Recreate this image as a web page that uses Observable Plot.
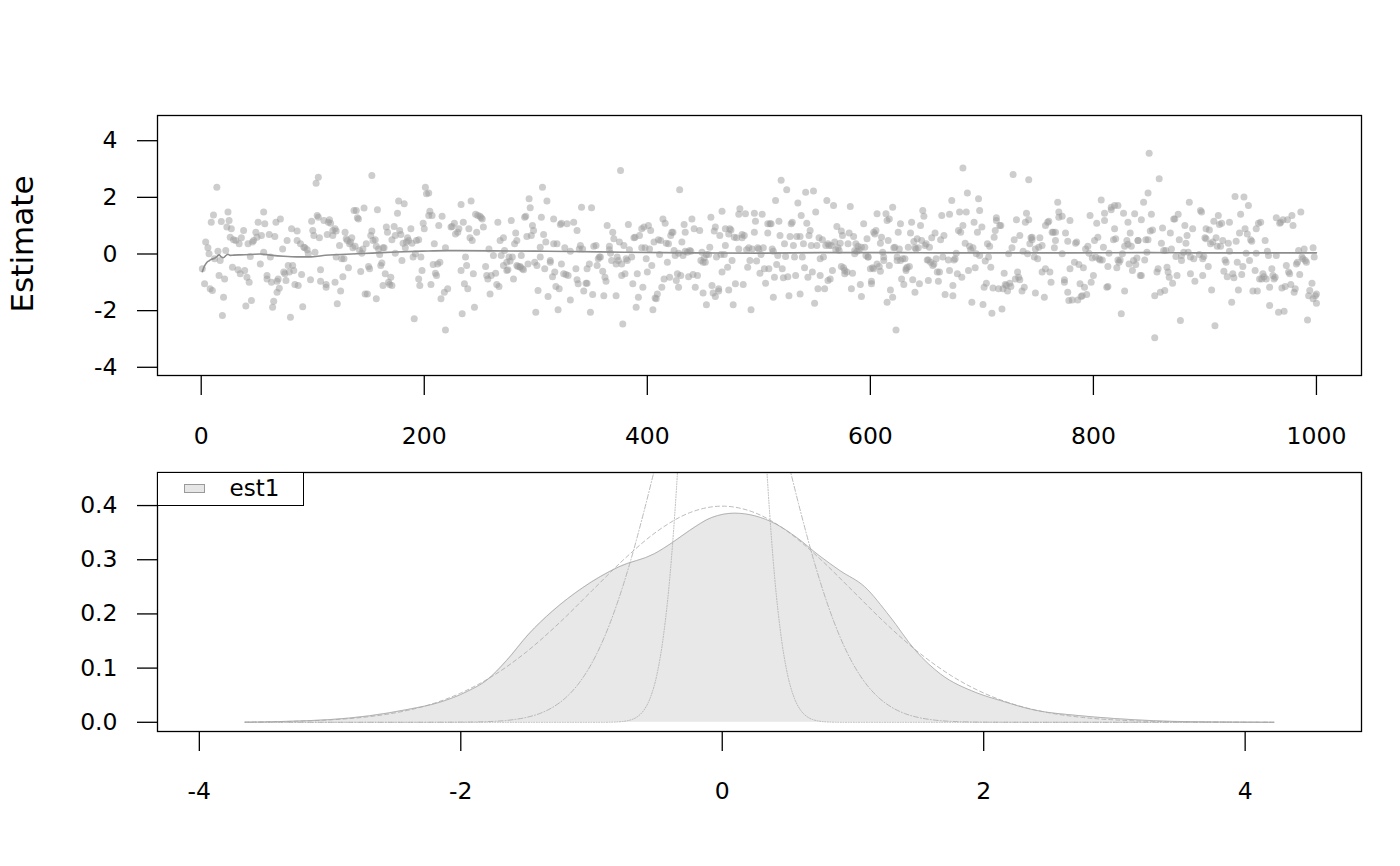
<!DOCTYPE html>
<html><head><meta charset="utf-8">
<script src="https://cdn.jsdelivr.net/npm/d3@7"></script>
<script src="https://cdn.jsdelivr.net/npm/@observablehq/plot@0.6"></script>
<style>
html,body{margin:0;padding:0;background:#fff;}
#wrap{position:relative;width:1400px;height:866px;font-family:"DejaVu Sans",sans-serif;color:#000;overflow:hidden;}
.panel{position:absolute;left:0;}
#ylab{position:absolute;left:22px;top:244px;transform:translate(-50%,-50%) rotate(-90deg);font-size:31px;white-space:nowrap;line-height:1;}
#legend{position:absolute;left:156.5px;top:471.5px;width:147px;height:34px;box-sizing:border-box;border:1.3px solid #000;background:#fff;}
#legend .sw{position:absolute;left:26px;top:11px;width:21px;height:9px;box-sizing:border-box;background:#e6e6e6;border:1px solid #9a9a9a;}
#legend .lb{position:absolute;left:72px;top:3px;font-size:23px;line-height:25px;}
</style>
</head><body>
<div id="wrap"><div id="ylab">Estimate</div></div>
<script>
// ---------- top panel: draws per iteration ----------
const iter = [
1,3,4,6,7,8,10,9,11,12,
14,15,16,17,19,20,21,22,18,24,
25,23,27,26,28,29,31,33,34,35,
36,38,39,40,41,43,42,45,44,46,
47,49,51,50,53,54,56,56,57,59,
59,61,62,63,64,65,66,67,68,68,
70,71,69,73,74,75,76,77,78,79,
80,81,82,83,84,86,86,87,89,90,
91,92,93,95,96,98,99,100,101,102,
103,104,105,105,106,107,107,
110,112,112,113,114,115,116,118,118,120,
121,120,121,122,124,125,126,127,128,129,
130,131,132,133,134,135,136,137,138,139,
140,141,142,143,144,145,146,147,148,149,
150,151,152,153,153,154,156,157,157,158,
159,160,161,162,163,163,164,165,166,167,
168,169,170,171,171,173,174,174,176,177,
178,179,180,181,182,183,184,185,186,188,
189,190,191,192,193,195,195,196,197,198,
199,200,201,202,204,204,205,206,207,208,
209,210,211,212,213,214,215,216,218,219,
219,
221,224,225,227,228,230,231,233,233,234,
235,236,237,238,239,240,241,242,243,244,
245,247,246,248,250,251,252,253,255,256,
257,258,259,260,262,264,265,266,267,268,
269,271,271,272,274,274,275,276,277,278,
279,280,281,282,283,283,284,286,286,287,
288,289,290,291,292,293,294,295,296,297,
298,299,300,301,302,304,304,305,306,307,
308,309,310,311,313,313,315,316,316,317,
318,319,320,321,322,323,323,325,326,327,
328,329,331,331,
334,336,337,337,338,339,340,342,341,343,
345,346,346,348,349,350,351,352,354,355,
356,357,358,360,361,362,363,364,366,366,
367,368,369,370,372,372,373,374,375,376,
377,377,378,379,380,381,382,383,384,386,
387,388,389,390,391,392,393,395,395,396,
397,398,399,400,401,402,403,404,405,406,
407,408,409,410,411,412,413,414,415,416,
417,418,419,420,421,422,423,424,425,426,
427,428,428,429,430,431,432,433,434,434,
436,437,438,439,440,441,442,443,
445,447,448,449,450,450,451,452,453,453,
455,456,457,458,459,460,461,461,462,464,
464,465,466,467,467,469,470,470,472,473,
473,474,475,476,477,478,479,480,482,482,
483,485,485,486,487,488,489,490,491,492,
493,494,496,496,497,498,499,500,501,502,
503,504,505,506,508,508,509,510,511,512,
513,513,514,515,516,517,518,519,520,521,
522,523,524,525,526,527,528,529,530,531,
532,533,534,535,537,537,538,539,540,541,
542,543,544,545,546,547,548,549,550,551,
552,553,554,555,555,
557,558,559,560,561,562,562,563,564,565,
566,567,568,569,570,571,572,573,574,574,
575,576,577,577,579,580,581,582,583,584,
585,586,586,587,588,589,590,591,592,592,
594,595,596,597,598,598,600,601,601,602,
603,603,604,605,606,606,608,609,609,610,
611,612,612,614,615,615,616,617,617,618,
620,620,621,622,623,624,624,625,626,627,
627,628,629,630,631,632,632,633,634,635,
636,637,638,639,640,640,641,642,643,644,
645,646,647,648,649,650,651,652,652,653,
654,655,656,657,658,659,660,661,662,663,
664,665,666,667,
670,671,671,673,674,674,675,676,677,678,
679,680,681,682,683,683,685,686,687,688,
689,690,691,692,693,694,695,696,697,698,
698,700,701,702,703,704,705,706,707,708,
709,710,711,712,713,713,715,716,717,718,
719,720,721,722,723,724,725,726,727,728,
729,730,731,732,733,734,734,736,737,738,
739,740,741,742,742,743,744,745,745,747,
748,748,750,751,752,754,754,756,757,757,
759,760,761,762,763,764,765,766,766,768,
769,769,772,772,774,774,775,777,777,778,
779,779,
781,783,784,785,786,787,788,789,790,791,
792,793,794,795,796,797,798,799,800,801,
802,803,804,805,806,807,808,809,810,810,
812,813,813,814,816,816,818,819,819,820,
821,822,822,823,824,825,826,827,828,828,
830,831,831,832,833,834,835,836,837,838,
839,840,840,842,843,843,845,846,847,848,
849,849,850,851,852,853,855,855,857,858,
859,860,861,862,863,864,865,866,867,868,
869,870,871,872,873,874,875,876,877,878,
879,879,881,882,883,884,885,886,887,887,
889,890,891,
895,896,897,898,898,899,901,900,901,903,
904,905,906,907,908,909,910,911,912,913,
914,915,916,917,918,919,920,921,922,922,
924,925,926,927,928,929,930,931,932,933,
934,935,936,937,938,939,940,941,942,943,
945,946,946,947,948,949,950,951,952,953,
954,955,956,957,958,958,960,961,962,963,
964,964,966,967,968,969,970,971,972,973,
974,975,976,977,978,979,980,981,982,983,
984,985,986,987,988,989,990,991,992,993,
994,996,997,997,998,999,1000,1000
];
const est = [
-0.52,-1.05,0.42,0.22,0.01,-1.23,-1.29,1.12,1.38,-0.17,
2.36,0.10,-0.76,-0.23,-2.17,-1.53,-0.88,0.12,1.15,1.48,
1.18,0.95,0.89,0.59,-0.47,0.50,0.48,-0.56,0.36,-0.70,
0.57,0.83,-0.58,-1.84,-0.82,-1.00,0.36,-1.64,-0.09,0.42,
0.48,0.77,1.12,0.59,-0.35,0.65,0.06,1.48,1.07,-0.76,
-0.88,0.69,-0.11,-1.00,-1.88,-1.67,0.62,1.12,-0.96,-1.35,
-1.21,1.24,-0.88,0.18,-0.64,-0.70,-0.94,0.48,-0.41,-0.64,
-2.23,0.89,-0.41,-0.58,-1.08,0.48,0.81,-1.11,0.36,-0.72,
-1.86,0.24,0.22,0.15,0.01,-0.91,1.16,0.83,0.65,0.06,
2.50,1.36,2.71,1.30,0.57,-0.96,-0.56,
1.18,-1.08,-1.17,0.69,1.12,1.21,1.09,0.83,0.65,0.89,
0.81,-1.00,-0.11,-1.76,0.30,-1.31,-0.17,-0.80,-0.17,0.77,
0.54,0.48,-0.49,0.36,0.42,0.57,0.22,1.54,0.27,1.54,
1.28,1.24,0.12,-0.62,0.03,0.18,1.62,-1.41,0.36,-1.41,
-0.44,-0.52,0.65,0.81,2.77,0.48,0.50,-1.58,0.27,1.56,
0.18,-0.02,-0.41,-0.32,0.22,-1.11,0.22,-0.70,0.95,0.77,
-1.00,-1.08,-0.82,-1.11,0.50,0.97,0.65,0.03,1.44,1.87,
0.83,0.69,-0.23,0.38,1.77,0.22,0.42,0.57,0.48,0.89,
0.38,-0.11,-2.29,0.01,0.48,-0.88,0.50,-1.11,-0.11,-0.58,
1.09,0.89,2.36,2.13,2.15,1.36,1.51,-1.08,1.36,-0.37,
0.36,-0.68,-0.76,-0.35,1.01,-0.29,-1.58,1.33,-1.35,0.22,
-2.68,
-1.23,0.95,0.97,1.09,0.71,0.77,0.89,-0.58,1.75,-2.11,
1.12,-1.05,-0.11,-0.41,-1.23,0.89,0.57,1.87,0.48,-0.70,
-1.88,0.77,1.40,1.36,1.33,1.28,1.24,0.95,-0.44,-0.76,
-0.88,0.18,-1.41,-0.76,-0.05,-0.68,-1.08,1.12,-1.15,0.48,
-0.05,0.57,-0.41,0.12,-0.58,-0.29,-0.56,-0.11,-0.25,1.18,
-0.11,-0.88,0.36,0.74,0.48,-0.41,-0.44,-0.44,-0.47,-0.05,
-0.52,-0.56,1.30,1.33,0.62,-0.35,1.95,1.63,0.65,1.01,
0.83,-0.29,-2.06,-0.41,-1.29,-0.11,0.24,1.30,2.36,0.69,
-0.52,0.42,1.87,-1.50,-0.29,-0.23,-0.80,1.24,0.36,-0.64,
-1.15,0.36,-1.97,-1.23,1.04,1.09,-0.35,-0.70,0.22,-0.72,
1.07,-0.76,-1.62,0.10,
1.12,-0.52,0.83,-0.91,-1.05,0.18,0.30,0.18,1.65,-1.31,
-1.03,-0.52,-1.03,-0.35,-2.06,1.63,-1.43,0.27,0.30,-0.41,
-0.17,-0.11,-0.11,-0.61,-1.47,-0.82,-0.96,1.01,0.27,0.15,
0.03,-0.23,0.77,0.54,-1.47,-0.35,-0.11,-0.23,0.42,2.95,
-0.76,-0.35,-2.47,0.30,-0.70,-0.17,-0.23,1.04,0.15,-0.11,
-1.05,0.57,0.59,-1.88,-0.70,-1.53,0.65,0.89,0.22,-1.17,
0.95,0.22,-0.17,-0.64,1.01,0.18,0.83,-0.41,-1.97,0.42,
-1.55,-1.58,-1.41,0.50,-0.02,0.48,-1.17,1.24,-0.88,1.09,
0.38,-0.29,0.36,-0.82,0.65,0.77,0.77,0.12,-0.05,-0.94,
-0.70,-1.17,0.03,2.27,-0.76,0.42,-0.05,1.04,0.10,0.77,
0.06,-0.80,0.12,0.10,1.24,-0.72,0.89,-1.17,
-0.76,0.83,-0.23,0.06,-0.29,-1.38,-0.14,-0.29,-0.02,-1.79,
-0.02,0.24,1.30,-1.11,-1.38,0.81,-1.50,0.95,-0.11,-1.23,
-1.31,0.65,-0.02,-0.64,1.51,-0.02,0.89,0.30,-0.47,0.71,
-1.27,0.89,0.85,-0.23,-1.79,0.59,-1.05,0.57,1.40,0.18,
1.60,0.69,0.57,-1.08,0.65,1.42,0.15,-0.47,0.22,-0.23,
-1.97,0.18,1.44,0.77,1.16,-0.25,0.22,0.18,-0.68,-0.02,
1.40,0.22,-0.52,-1.03,0.74,1.07,-0.52,1.07,1.07,0.18,
0.10,-1.53,-0.82,1.89,-0.37,-0.05,1.16,0.65,2.60,-0.52,
-0.84,0.36,-0.09,2.27,-0.80,-1.47,0.62,1.07,1.12,0.30,
-0.11,-0.76,0.62,1.80,0.62,-1.41,1.36,-0.11,0.36,-0.49,
2.18,1.09,-0.82,0.65,0.83,0.30,-0.64,2.22,-1.74,1.48,
0.30,-1.23,0.57,-0.76,-0.17,
0.50,-0.11,-1.23,0.30,1.89,-0.94,0.36,0.30,-0.88,0.30,
-0.58,1.71,0.42,0.15,0.97,0.22,0.12,0.38,0.81,-0.44,
0.65,-0.49,-0.58,-0.70,-0.64,0.36,0.74,1.68,-1.23,-0.68,
0.62,0.12,0.01,0.36,0.10,0.27,0.15,-1.08,-1.50,0.24,
1.07,0.24,-0.05,0.54,-0.11,-0.11,-0.52,-0.96,-1.05,-0.49,
-0.52,0.77,0.71,0.83,1.42,-0.35,-0.44,0.38,-0.61,0.59,
0.06,-0.11,-0.23,1.42,1.18,-1.70,0.48,1.24,-0.41,-1.27,
1.65,-1.53,0.22,0.24,-2.68,-0.11,-0.23,0.77,0.18,-0.23,
1.07,-0.88,-0.17,-1.08,-0.17,-0.52,-0.58,-0.47,0.24,-0.44,
0.74,1.12,-0.91,0.44,0.22,-1.35,0.18,0.54,0.22,-1.05,
1.01,0.48,1.54,1.33,0.30,0.36,-0.21,-0.94,-0.21,0.24,
-0.29,0.57,-0.41,-0.35,0.74,-0.17,-0.64,-0.96,-0.64,0.50,
1.36,-0.11,0.65,-1.43,
-0.21,1.40,-0.58,1.89,-1.11,-1.47,-0.21,-0.17,0.03,-0.70,
0.83,1.48,0.77,-0.82,3.04,1.01,0.38,1.48,2.15,-0.58,
0.27,0.15,-1.70,0.22,1.12,-0.49,0.01,0.77,1.95,-0.05,
1.54,0.95,-1.78,-1.17,-0.25,-1.03,0.36,-0.11,0.27,-0.47,
-2.09,-1.20,0.59,0.83,1.28,1.18,-1.23,1.01,1.01,-1.94,
-1.23,-0.68,-1.08,-1.11,-1.31,0.01,-1.03,-1.15,0.22,2.81,
0.50,-0.88,1.21,-0.64,-0.82,0.65,-0.91,-1.31,0.10,-1.17,
1.12,1.44,0.01,1.21,2.62,0.36,0.57,0.50,0.59,-0.11,
-1.38,0.18,-0.17,0.24,0.57,0.30,-0.64,-1.53,-0.52,1.01,
1.12,1.16,-0.64,-1.00,0.77,0.77,0.22,0.77,0.48,1.83,
1.48,1.30,1.33,0.01,-1.00,-0.91,0.74,-1.35,0.45,-1.64,
-0.52,1.18,
-1.62,-0.29,0.38,0.42,-1.62,-0.37,-1.05,-1.50,-1.47,-0.49,
-1.17,0.18,-1.43,0.27,0.03,1.36,-1.00,-0.14,-0.76,0.48,
-0.11,1.09,0.59,-0.17,-0.21,1.91,-0.21,0.24,1.18,1.44,
-1.17,-0.44,-1.15,0.03,1.65,1.56,0.50,0.89,1.71,0.54,
-0.49,1.71,-0.21,-0.29,-0.21,-2.11,0.01,1.44,-1.31,0.27,
0.48,0.34,1.12,-0.35,0.74,0.27,-0.58,-0.23,1.42,-0.37,
-0.14,0.48,0.48,-0.76,1.21,-0.76,1.83,-0.21,0.50,0.06,
0.50,2.15,3.56,0.81,1.40,0.85,-2.96,-1.47,-0.64,-0.52,
2.66,-1.35,0.38,0.92,0.12,-1.29,0.12,-0.47,-0.64,-0.82,
0.74,0.18,-1.03,1.24,1.24,-0.09,-0.76,1.40,0.50,-2.35,
-0.05,-0.23,0.06,1.01,0.38,0.65,0.06,1.83,-0.70,-0.11,
0.89,-0.17,-0.96,
-0.02,1.54,1.48,-0.76,-0.17,-0.09,0.89,0.57,0.54,-0.44,
0.85,0.36,-1.27,0.42,1.16,-2.53,0.57,0.27,1.36,1.04,
0.27,1.09,0.48,-0.61,-0.21,-0.29,-0.80,0.38,0.10,1.12,
-1.70,-0.70,-0.84,2.03,0.45,-0.29,-1.27,0.74,1.40,-0.72,
-0.44,2.01,0.89,0.03,0.71,1.71,-0.23,0.50,0.45,-1.31,
-0.58,0.03,0.89,-1.31,1.09,-0.88,1.12,-0.88,-0.70,-0.80,
0.48,-0.88,0.10,-0.05,-1.17,-1.82,-0.52,-0.76,-0.88,-0.82,
-0.05,1.28,-2.06,1.09,1.12,-1.20,1.21,-2.02,-1.15,-0.41,
1.21,-0.64,-0.70,-1.08,1.36,1.01,-1.35,-1.23,-0.35,-0.29,
0.12,-0.72,1.48,-0.11,-0.17,0.18,-0.23,-0.29,-2.33,-1.47,
-1.29,-1.03,0.22,-1.58,-0.11,-1.47,-1.41,-1.74
];
// running mean of the estimate
const meanIter = [1,3,5,7,9,12,14,16,18,20,22,24,26,29,35,44,53,62,74,86,98,108,130,153,175,198,220,260,300,331,380,443,500,556,620,668,730,780,850,892,950,1000];
const meanEst  = [-0.62,-0.42,-0.30,-0.24,-0.19,-0.15,-0.09,-0.03,-0.10,-0.13,-0.06,-0.01,-0.05,-0.04,-0.03,-0.02,0.00,-0.04,-0.08,-0.10,-0.10,-0.06,-0.01,0.03,0.07,0.10,0.12,0.11,0.10,0.09,0.06,0.04,0.03,0.05,0.05,0.04,0.04,0.04,0.05,0.04,0.04,0.04];
const topXTicks = [0,200,400,600,800,1000];
const topYTicks = [-4,-2,0,2,4];

// ---------- bottom panel: densities ----------
const densX = [-3.65,-3.3,-3.0,-2.7,-2.4,-2.16,-1.95,-1.8,-1.65,-1.48,-1.3,-1.07,-0.79,-0.52,-0.38,-0.25,-0.08,0.095,0.25,0.41,0.57,0.74,0.9,1.09,1.28,1.48,1.67,1.94,2.13,2.4,2.7,3.0,3.3,3.6,3.9,4.22];
const densY = [0,0.002,0.005,0.012,0.024,0.037,0.057,0.078,0.114,0.163,0.205,0.248,0.287,0.311,0.332,0.354,0.378,0.386,0.381,0.366,0.341,0.308,0.280,0.250,0.196,0.132,0.089,0.055,0.040,0.022,0.013,0.007,0.003,0.001,0.0005,0];
const wideX = [-3.65,-3.25,-3,-2.75,-2.5,-2.25,-2,-1.75,-1.5,-1.25,-1,-0.75,-0.5,-0.25,0,0.25,0.5,0.75,1,1.25,1.5,1.75,2,2.25,2.5,2.75,3,3.25,3.5,3.75,4,4.22];
const wideY = [0.0005,0.0020,0.0044,0.0091,0.0175,0.0317,0.0540,0.0863,0.1295,0.1826,0.2420,0.3011,0.3521,0.3867,0.3989,0.3867,0.3521,0.3011,0.2420,0.1826,0.1295,0.0863,0.0540,0.0317,0.0175,0.0091,0.0044,0.0020,0.0009,0.0004,0.0001,0.00005];
const midX = [-3.65,-2.5,-2,-1.8,-1.6,-1.5,-1.4,-1.3,-1.2,-1.1,-1,-0.9,-0.8,-0.7,-0.6,-0.5,-0.4,-0.3,0,0.3,0.4,0.5,0.6,0.7,0.8,0.9,1,1.1,1.2,1.3,1.4,1.5,1.6,1.8,2,2.5,4.22];
const midY = [0,0.00002,0.0003,0.0012,0.0048,0.0089,0.0158,0.0272,0.0448,0.0709,0.108,0.158,0.222,0.299,0.388,0.484,0.579,0.666,0.798,0.666,0.579,0.484,0.388,0.299,0.222,0.158,0.108,0.0709,0.0448,0.0272,0.0158,0.0089,0.0048,0.0012,0.0003,0.00002,0];
const narrowX = [-3.65,-1,-0.9,-0.8,-0.7,-0.65,-0.6,-0.55,-0.5,-0.45,-0.4,-0.35,-0.3,-0.25,0,0.25,0.3,0.35,0.4,0.45,0.5,0.55,0.6,0.65,0.7,0.8,0.9,1,4.22];
const narrowY = [0,0,0.00005,0.0007,0.0044,0.0102,0.0222,0.0455,0.0876,0.159,0.270,0.432,0.648,0.914,1.995,0.914,0.648,0.432,0.270,0.159,0.0876,0.0455,0.0222,0.0102,0.0044,0.0007,0.00005,0,0];
const botXTicks = [-4,-2,0,2,4];
const botYTicks = [0,0.1,0.2,0.3,0.4];
const legendLabel = "est1";

const zip = (xs, ys) => xs.map((x, i) => ({x, y: ys[i]}));
const draws = zip(iter, est);
const runMean = zip(meanIter, meanEst);
const dens = zip(densX, densY);
const wide = zip(wideX, wideY);
const mid = zip(midX, midY);
const narrow = zip(narrowX, narrowY);
const fmt = d => String(d);
const style = {fontFamily: "DejaVu Sans", fontSize: "23.5px", color: "#000", background: "transparent", overflow: "visible"};

const topPlot = Plot.plot({
  width: 1400, height: 450,
  marginLeft: 157, marginRight: 39, marginTop: 115, marginBottom: 75,
  style,
  x: {domain: [-39.2, 1040.4], ticks: topXTicks, tickSize: 20, tickPadding: 32, tickFormat: fmt, label: null},
  y: {domain: [-4.29, 4.89], ticks: topYTicks, tickSize: 20, tickPadding: 20, tickFormat: fmt, label: null},
  marks: [
    Plot.dot(draws, {x: "x", y: "y", r: 3.5, fill: "#9c9c9c", fillOpacity: 0.5, stroke: "none"}),
    Plot.line(runMean, {x: "x", y: "y", stroke: "#8c8c8c", strokeWidth: 1.6, curve: "monotone-x"}),
    Plot.frame({stroke: "#000", strokeWidth: 1.3})
  ]
});

const botPlot = Plot.plot({
  width: 1400, height: 416,
  marginLeft: 157, marginRight: 39, marginTop: 22, marginBottom: 135,
  style,
  x: {domain: [-4.32, 4.89], ticks: botXTicks, tickSize: 20, tickPadding: 31, tickFormat: fmt, label: null},
  y: {domain: [-0.017, 0.461], ticks: botYTicks, tickSize: 20, tickPadding: 20, tickFormat: d => d.toFixed(1), label: null},
  marks: [
    Plot.areaY(dens, {x: "x", y: "y", fill: "#e8e8e8", curve: "monotone-x"}),
    Plot.line(dens, {x: "x", y: "y", stroke: "#a5a5a5", strokeWidth: 0.8, curve: "monotone-x"}),
    Plot.line(wide, {x: "x", y: "y", stroke: "#aaaaaa", strokeWidth: 0.8, strokeDasharray: "4,3", curve: "monotone-x", clip: true}),
    Plot.line(mid, {x: "x", y: "y", stroke: "#aaaaaa", strokeWidth: 0.8, strokeDasharray: "1,2,5,2", curve: "monotone-x", clip: true}),
    Plot.line(narrow, {x: "x", y: "y", stroke: "#aaaaaa", strokeWidth: 0.8, strokeDasharray: "1,1.6", curve: "monotone-x", clip: true}),
    Plot.frame({stroke: "#000", strokeWidth: 1.3})
  ]
});

const wrap = document.getElementById("wrap");
for (const [svg, top] of [[topPlot, 0], [botPlot, 450]]) {
  const holder = document.createElement("div");
  holder.className = "panel";
  holder.style.top = top + "px";
  holder.appendChild(svg);
  wrap.appendChild(holder);
  d3.select(svg).selectAll('g[aria-label$="tick"] path, g[aria-label$="tick"] line, .tick line')
    .attr("stroke-width", 1.3).attr("stroke", "#000");
}
const legend = document.createElement("div");
legend.id = "legend";
legend.innerHTML = '<div class="sw"></div><div class="lb"></div>';
legend.querySelector(".lb").textContent = legendLabel;
wrap.appendChild(legend);
</script>
</body></html>
